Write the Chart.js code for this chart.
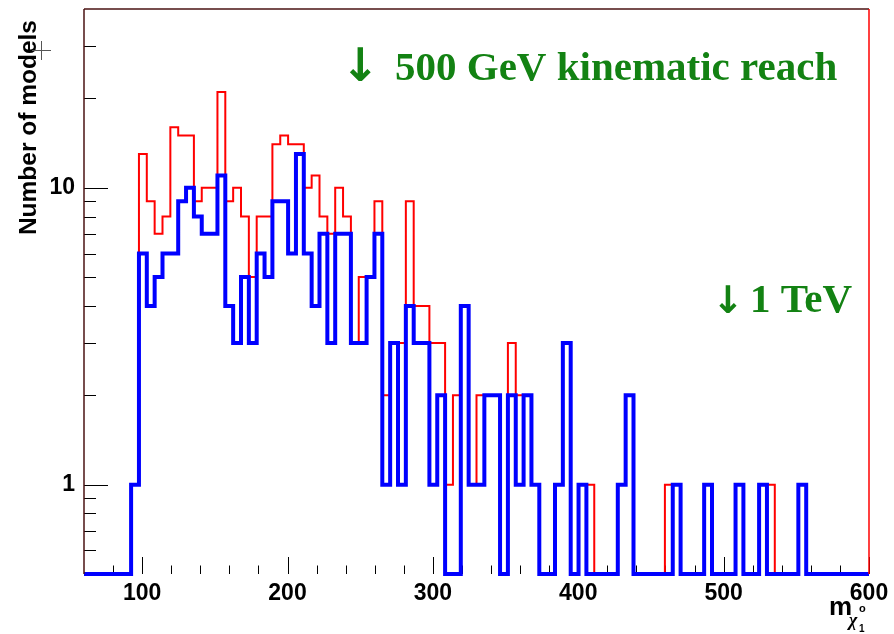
<!DOCTYPE html>
<html>
<head>
<meta charset="utf-8">
<script src="https://cdn.jsdelivr.net/npm/chart.js@4/dist/chart.umd.min.js"></script>
<style>
  html, body { margin: 0; padding: 0; background: #ffffff; }
  canvas { display: block; }
</style>
</head>
<body>
<canvas id="chart" width="894" height="634"></canvas>
<script>
// Binning: 100 bins of 5.4 GeV from 60 to 600 GeV
const X_MIN = 60;
const X_MAX = 600;
const N_BINS = 100;
const BIN_WIDTH = (X_MAX - X_MIN) / N_BINS;

// Log axis range (empty bins sit on the lower edge)
const Y_MIN = 0.5;
const Y_MAX = 40;

const xTickLabels = [100, 200, 300, 400, 500, 600];
const yTickLabels = [1, 10];
const yMinorTicks = [0.6, 0.7, 0.8, 0.9, 2, 3, 4, 5, 6, 7, 8, 9, 20, 30];

// Number of models per bin, full sample (thin red)
const allModels = [
  0, 0, 0, 0, 0, 0, 1, 13, 9, 7,
  8, 16, 15, 15, 9, 10, 10, 21, 9, 10,
  8, 5, 8, 8, 14, 15, 14, 14, 10, 11,
  8, 7, 10, 8, 3, 5, 5, 9, 2, 3,
  3, 9, 4, 4, 3, 3, 1, 2, 4, 1,
  2, 2, 2, 0, 3, 2, 2, 1, 0, 0,
  1, 3, 0, 1, 1, 0, 0, 0, 1, 2,
  0, 0, 0, 0, 1, 1, 0, 0, 0, 1,
  0, 0, 0, 1, 0, 0, 1, 1, 0, 0,
  0, 1, 0, 0, 0, 0, 0, 0, 0, 0
];

// Number of models per bin, selected sample (thick blue)
const selectedModels = [
  0, 0, 0, 0, 0, 0, 1, 6, 4, 5,
  6, 6, 9, 10, 8, 7, 7, 11, 4, 3,
  5, 3, 6, 5, 9, 9, 6, 13, 6, 4,
  7, 3, 7, 7, 3, 3, 5, 7, 1, 3,
  1, 4, 3, 3, 1, 2, 0, 0, 4, 1,
  1, 2, 2, 0, 2, 1, 2, 1, 0, 0,
  1, 3, 0, 1, 0, 0, 0, 0, 1, 2,
  0, 0, 0, 0, 0, 1, 0, 0, 0, 1,
  0, 0, 0, 1, 0, 0, 1, 0, 0, 0,
  0, 1, 0, 0, 0, 0, 0, 0, 0, 0
];

// Step outline: one point per lower bin edge, plus the closing upper edge.
function histogramPoints(counts) {
  const pts = counts.map((c, i) => ({
    x: X_MIN + i * BIN_WIDTH,
    y: c > 0 ? c : Y_MIN
  }));
  const last = counts[counts.length - 1];
  pts.push({ x: X_MAX, y: last > 0 ? last : Y_MIN });
  return pts;
}

const FRAME_DARK = '#4a1212';
const GREEN = '#138213';

function strokeLine(ctx, x1, y1, x2, y2) {
  ctx.beginPath();
  ctx.moveTo(x1, y1);
  ctx.lineTo(x2, y2);
  ctx.stroke();
}

const frameAndText = {
  id: 'frameAndText',
  beforeDatasetsDraw(chart) {
    const { ctx, chartArea: a, scales: { x, y } } = chart;
    ctx.save();
    ctx.strokeStyle = '#000000';
    ctx.lineWidth = 1;
    // x ticks: major every 100, minor every 20, drawn inward from the bottom
    for (let v = 80; v <= X_MAX; v += 20) {
      const px = Math.round(x.getPixelForValue(v)) + 0.5;
      const len = v % 100 === 0 ? 17 : 8.5;
      strokeLine(ctx, px, a.bottom, px, a.bottom - len);
    }
    // y ticks: decades long, intermediate values short, drawn inward from the left
    yTickLabels.forEach(v => {
      const py = Math.round(y.getPixelForValue(v)) + 0.5;
      strokeLine(ctx, a.left, py, a.left + 24, py);
    });
    yMinorTicks.forEach(v => {
      const py = Math.round(y.getPixelForValue(v)) + 0.5;
      strokeLine(ctx, a.left, py, a.left + 12, py);
    });
    ctx.restore();
  },
  afterDatasetsDraw(chart) {
    const { ctx, chartArea: a } = chart;
    ctx.save();
    ctx.lineWidth = 1.5;
    ctx.strokeStyle = FRAME_DARK;
    strokeLine(ctx, a.left, a.top, a.right, a.top);
    strokeLine(ctx, a.left, a.top, a.left, a.bottom);
    ctx.strokeStyle = '#ff0000';
    strokeLine(ctx, a.right, a.top, a.right, a.bottom);
    ctx.restore();
  },
  afterDraw(chart) {
    const { ctx } = chart;
    ctx.save();

    // y-axis title, rotated, aligned to the top of the axis
    ctx.save();
    ctx.translate(36, 20);
    ctx.rotate(-Math.PI / 2);
    ctx.fillStyle = '#000000';
    ctx.font = 'bold 24.5px "Liberation Sans", Arial, sans-serif';
    ctx.textAlign = 'right';
    ctx.textBaseline = 'alphabetic';
    ctx.fillText('Number of models', 0, 0);
    ctx.restore();

    // small cross beside the title
    ctx.strokeStyle = '#555555';
    ctx.lineWidth = 1;
    strokeLine(ctx, 32, 50.5, 51, 50.5);
    strokeLine(ctx, 41.5, 41, 41.5, 60);

    // x-axis title: m with chi_1^0 subscript
    ctx.fillStyle = '#000000';
    ctx.textBaseline = 'alphabetic';
    ctx.textAlign = 'left';
    ctx.font = 'bold 26px "Liberation Sans", Arial, sans-serif';
    ctx.fillText('m', 829, 615);
    ctx.font = 'italic bold 18px "Liberation Serif", serif';
    ctx.fillText('\u03C7', 849, 626);
    ctx.font = 'bold 11px "Liberation Sans", Arial, sans-serif';
    ctx.fillText('o', 859, 612);
    ctx.font = 'bold 10px "Liberation Sans", Arial, sans-serif';
    ctx.fillText('1', 859, 632);

    // kinematic reach annotations
    ctx.fillStyle = GREEN;
    ctx.font = 'bold 46px "DejaVu Sans", sans-serif';
    ctx.fillText('\u2193', 341, 81);
    ctx.font = 'bold 41px "Liberation Serif", "Times New Roman", serif';
    ctx.fillText('500 GeV kinematic reach', 395, 80);
    ctx.font = 'bold 38px "DejaVu Sans", sans-serif';
    ctx.fillText('\u2193', 712, 313);
    ctx.font = 'bold 41px "Liberation Serif", "Times New Roman", serif';
    ctx.fillText('1 TeV', 750, 312);

    ctx.restore();
  }
};

new Chart(document.getElementById('chart'), {
  type: 'line',
  data: {
    datasets: [
      {
        label: 'selected',
        data: histogramPoints(selectedModels),
        borderColor: '#0000ff',
        borderWidth: 4,
        stepped: 'before',
        pointRadius: 0,
        fill: false,
        clip: 4
      },
      {
        label: 'all',
        data: histogramPoints(allModels),
        borderColor: '#ff0000',
        borderWidth: 2,
        stepped: 'before',
        pointRadius: 0,
        fill: false,
        clip: 4
      }
    ]
  },
  options: {
    responsive: false,
    animation: false,
    events: [],
    layout: { padding: { top: 9, right: 25, left: 0, bottom: 0 } },
    plugins: { legend: { display: false }, tooltip: { enabled: false } },
    scales: {
      x: {
        type: 'linear',
        min: X_MIN,
        max: X_MAX,
        grid: { display: false, drawTicks: false },
        border: { display: false },
        afterBuildTicks: scale => { scale.ticks = xTickLabels.map(v => ({ value: v })); },
        afterFit: scale => {
          scale.height = 60;
          scale.paddingLeft = 0;
          scale.paddingRight = 0;
        },
        ticks: {
          maxRotation: 0,
          autoSkip: false,
          padding: 6,
          color: '#000000',
          font: { family: '"Liberation Sans", Arial, sans-serif', size: 23, weight: 'bold' },
          callback: v => String(v)
        }
      },
      y: {
        type: 'logarithmic',
        min: Y_MIN,
        max: Y_MAX,
        grid: { display: false, drawTicks: false },
        border: { display: false },
        afterBuildTicks: scale => { scale.ticks = yTickLabels.map(v => ({ value: v })); },
        afterFit: scale => {
          scale.width = 84;
          scale.paddingTop = 0;
          scale.paddingBottom = 0;
        },
        ticks: {
          autoSkip: false,
          padding: 9,
          color: '#000000',
          font: { family: '"Liberation Sans", Arial, sans-serif', size: 23, weight: 'bold' },
          callback: v => String(v)
        }
      }
    }
  },
  plugins: [frameAndText]
});
</script>
</body>
</html>
